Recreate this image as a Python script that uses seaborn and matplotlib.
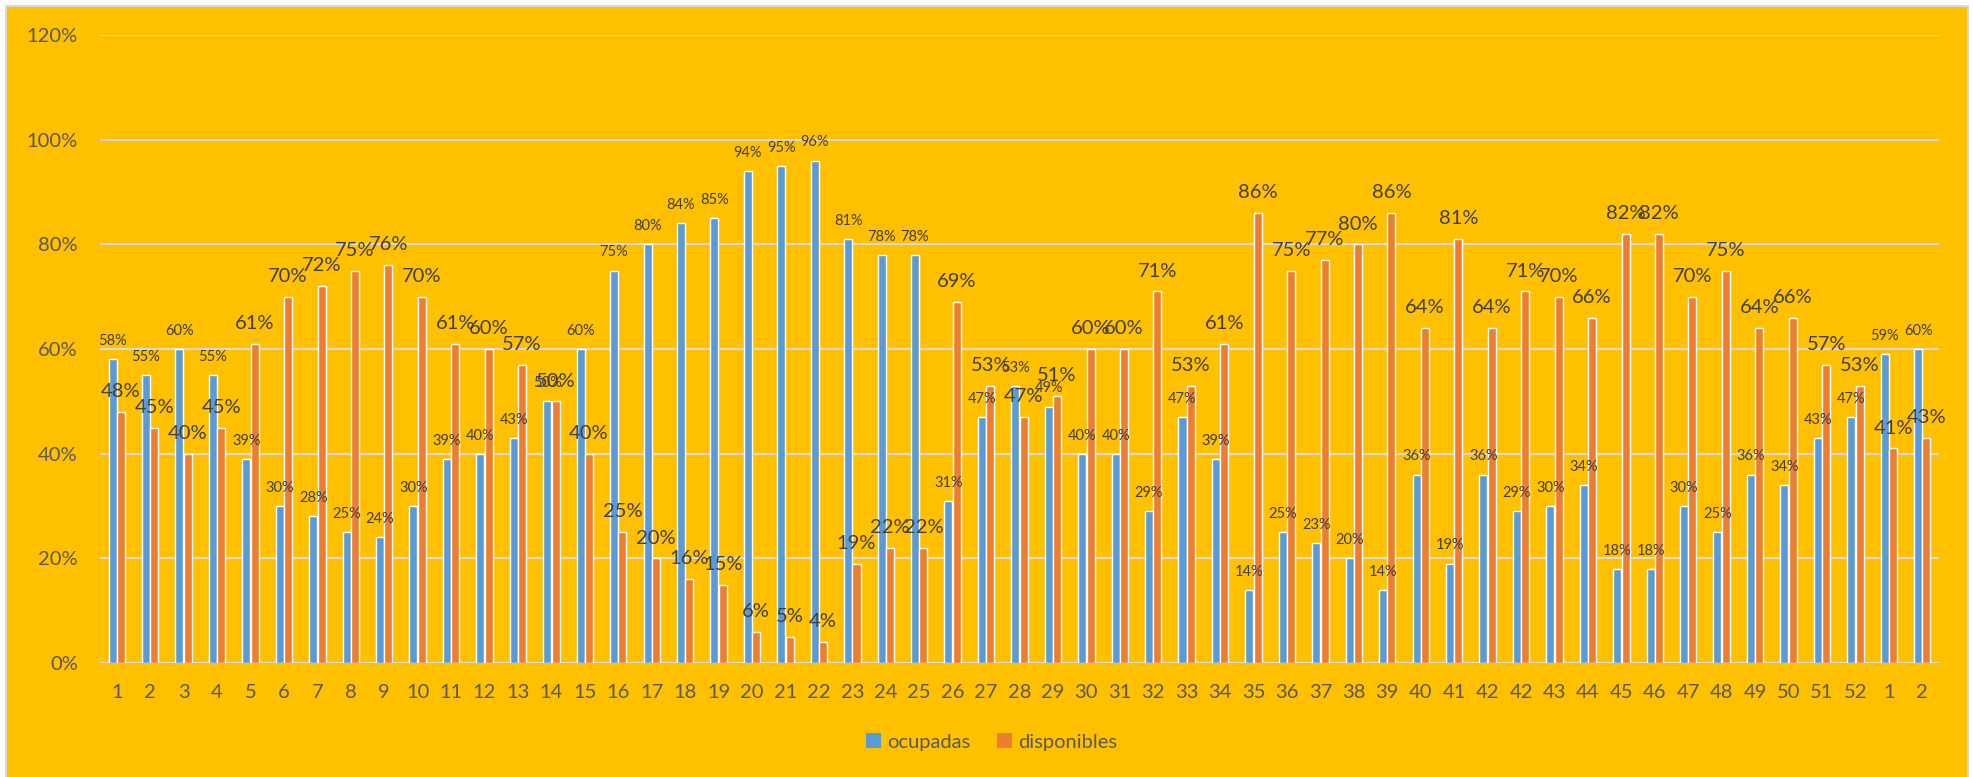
import matplotlib
matplotlib.use("Agg")
import matplotlib.pyplot as plt
import matplotlib.patches as mpatches
import seaborn as sns
import pandas as pd

# ---- data ----
week_labels = [str(i) for i in range(1, 42)] + ["42", "42"] + [str(i) for i in range(43, 53)] + ["1", "2"]
ocupadas = [58, 55, 60, 55, 39, 30, 28, 25, 24, 30, 39, 40, 43, 50, 60, 75, 80, 84, 85, 94,
            95, 96, 81, 78, 78, 31, 47, 53, 49, 40, 40, 29, 47, 39, 14, 25, 23, 20, 14, 36,
            19, 36, 29, 30, 34, 18, 18, 30, 25, 36, 34, 43, 47, 59, 60]
disponibles = [48, 45, 40, 45, 61, 70, 72, 75, 76, 70, 61, 60, 57, 50, 40, 25, 20, 16, 15, 6,
               5, 4, 19, 22, 22, 69, 53, 47, 51, 60, 60, 71, 53, 61, 86, 75, 77, 80, 86, 64,
               81, 64, 71, 70, 66, 82, 82, 70, 75, 64, 66, 57, 53, 41, 43]
series_names = ["ocupadas", "disponibles"]
y_ticks = [0, 0.2, 0.4, 0.6, 0.8, 1.0, 1.2]

# ---- style ----
BG = "#FFC000"
BLUE = "#5B9BD5"
ORANGE = "#ED7D31"
GRID = "#D9D9D9"
TICK_C = "#595959"
LAB_C = "#404040"

sns.set_style("white")
plt.rcParams["font.family"] = ["Lato", "DejaVu Sans"]

n = len(week_labels)
df = pd.DataFrame({
    "pos": list(range(n)) * 2,
    "valor": [v / 100 for v in ocupadas] + [v / 100 for v in disponibles],
    "serie": [series_names[0]] * n + [series_names[1]] * n,
})

W, H = 1974, 777
fig = plt.figure(figsize=(W / 100, H / 100), dpi=100)
fig.patch.set_facecolor("white")
# chart area background with thin gray frame
fig.patches.append(mpatches.Rectangle((6 / W, -0.01), (1968 - 6) / W, 1 - 6 / H + 0.01,
                                      transform=fig.transFigure, facecolor=BG,
                                      edgecolor=GRID, linewidth=1.5, zorder=-10))

ax = fig.add_axes([100 / W, 1 - 663 / H, (1939 - 100) / W, (663 - 35) / H])
ax.set_facecolor("none")

sns.barplot(data=df, x="pos", y="valor", hue="serie", hue_order=series_names,
            palette=[BLUE, ORANGE], width=0.5, gap=0.04, dodge=True,
            saturation=1, legend=False, ax=ax, zorder=3)

ax.set_ylim(0, 1.2)
ax.set_xlim(-0.5, n - 0.5)
ax.set_yticks(y_ticks)
ax.set_yticklabels([f"{int(round(t * 100))}%" for t in y_ticks])
ax.set_xticks(range(n))
ax.set_xticklabels(week_labels)
ax.set_xlabel("")
ax.set_ylabel("")

ax.yaxis.grid(True, color=GRID, linewidth=1.5, zorder=0)
ax.xaxis.grid(False)
ax.set_axisbelow(True)
for s in ax.spines.values():
    s.set_visible(False)
ax.tick_params(axis="both", length=0, colors=TICK_C, labelsize=14.5)
ax.tick_params(axis="y", pad=16)
ax.tick_params(axis="x", pad=15)

# data labels
ax.bar_label(ax.containers[0], labels=[f"{v}%" for v in ocupadas],
             padding=8, fontsize=10.5, color=LAB_C)
ax.bar_label(ax.containers[1], labels=[f"{v}%" for v in disponibles],
             padding=8.5, fontsize=14.5, color=LAB_C)

handles = [mpatches.Patch(facecolor=BLUE, edgecolor="none"),
           mpatches.Patch(facecolor=ORANGE, edgecolor="none")]
fig.legend(handles, series_names, loc="center", bbox_to_anchor=(991.5 / W, 1 - 742 / H),
           ncol=2, frameon=False, fontsize=14.5, labelcolor=TICK_C,
           handlelength=0.72, handleheight=0.72, handletextpad=0.31, columnspacing=1.34)

fig.savefig("out.png", dpi=100, facecolor="white")
